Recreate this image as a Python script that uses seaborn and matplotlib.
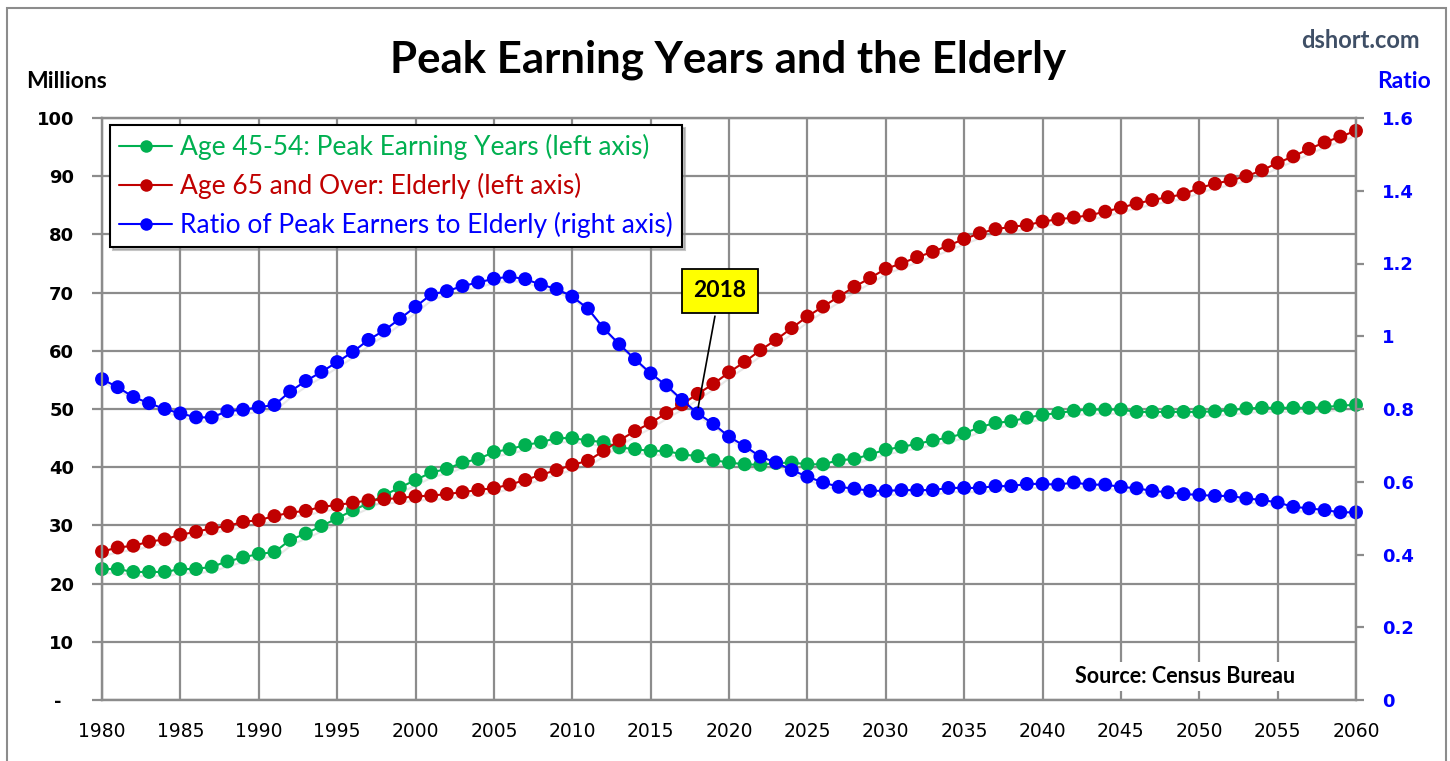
import matplotlib
matplotlib.use("Agg")
import matplotlib.pyplot as plt
import matplotlib.patheffects as pe
from matplotlib.patches import Rectangle
from matplotlib.lines import Line2D
import seaborn as sns
import pandas as pd

# Census Bureau numbers (millions / ratio)
years = list(range(1980, 2061))

peak_earners = [
    22.5, 22.5, 22.0, 22.0, 22.0, 22.5, 22.5, 22.9, 23.8, 24.5,
    25.1, 25.4, 27.5, 28.6, 29.9, 31.2, 32.6, 33.8, 35.2, 36.5,
    37.8, 39.1, 39.7, 40.8, 41.4, 42.6, 43.1, 43.8, 44.3, 45.0,
    45.0, 44.6, 44.3, 43.4, 43.1, 42.8, 42.8, 42.2, 41.9, 41.2,
    40.8, 40.5, 40.4, 40.7, 40.8, 40.5, 40.5, 41.2, 41.4, 42.2,
    43.0, 43.5, 44.0, 44.6, 45.1, 45.8, 46.9, 47.6, 47.9, 48.5,
    49.0, 49.3, 49.7, 49.9, 49.9, 49.9, 49.5, 49.5, 49.5, 49.5,
    49.5, 49.6, 49.8, 50.1, 50.2, 50.2, 50.2, 50.2, 50.3, 50.6,
    50.7,
]

elderly = [
    25.5, 26.2, 26.5, 27.2, 27.6, 28.4, 28.9, 29.5, 29.9, 30.6,
    30.9, 31.6, 32.2, 32.5, 33.2, 33.5, 33.9, 34.3, 34.5, 34.7,
    35.0, 35.1, 35.4, 35.7, 36.1, 36.4, 37.0, 37.8, 38.7, 39.5,
    40.4, 41.1, 42.8, 44.6, 46.2, 47.6, 49.3, 50.8, 52.6, 54.3,
    56.3, 58.1, 60.1, 61.9, 63.9, 65.9, 67.6, 69.3, 71.0, 72.5,
    74.1, 75.0, 76.1, 77.0, 78.1, 79.2, 80.2, 80.9, 81.3, 81.6,
    82.2, 82.6, 82.9, 83.3, 83.9, 84.6, 85.3, 85.9, 86.4, 86.9,
    88.0, 88.7, 89.3, 90.0, 91.0, 92.3, 93.4, 94.7, 95.8, 96.8,
    97.8,
]

ratio = [
    0.882, 0.860, 0.833, 0.816, 0.800, 0.788, 0.777, 0.777, 0.794, 0.798,
    0.805, 0.811, 0.848, 0.877, 0.902, 0.929, 0.957, 0.990, 1.016, 1.048,
    1.081, 1.115, 1.124, 1.138, 1.148, 1.158, 1.164, 1.157, 1.142, 1.130,
    1.109, 1.076, 1.022, 0.978, 0.937, 0.898, 0.865, 0.825, 0.788, 0.759,
    0.724, 0.698, 0.669, 0.653, 0.632, 0.614, 0.598, 0.586, 0.581, 0.575,
    0.575, 0.577, 0.577, 0.577, 0.583, 0.583, 0.583, 0.588, 0.588, 0.594,
    0.594, 0.592, 0.598, 0.592, 0.592, 0.586, 0.582, 0.575, 0.571, 0.566,
    0.564, 0.561, 0.561, 0.554, 0.550, 0.543, 0.531, 0.527, 0.522, 0.516,
    0.516,
]

left_ticks = [0, 10, 20, 30, 40, 50, 60, 70, 80, 90, 100]
left_labels = ["-  ", "10", "20", "30", "40", "50", "60", "70", "80", "90", "100"]
right_ticks = [0, 0.2, 0.4, 0.6, 0.8, 1.0, 1.2, 1.4, 1.6]
right_labels = ["0", "0.2", "0.4", "0.6", "0.8", "1", "1.2", "1.4", "1.6"]
x_ticks = list(range(1980, 2061, 5))

df = pd.DataFrame({"year": years, "peak": peak_earners,
                   "elderly": elderly, "ratio": ratio})

sns.set_style("white")
plt.rcParams["font.family"] = ["Lato", "DejaVu Sans"]
plt.rcParams["text.color"] = "black"
plt.rcParams["xtick.color"] = "black"
plt.rcParams["ytick.color"] = "black"

GREEN = "#00B050"
RED = "#C00000"
BLUE = "#0000FF"
GRID = "#8c8c8c"

fig = plt.figure(figsize=(14.5, 7.61), dpi=100)
ax = fig.add_axes([102 / 1450, 1 - 700 / 761, 1254 / 1450, 582 / 761])
ax2 = ax.twinx()

shadow = [pe.SimpleLineShadow(offset=(2, -3), shadow_color="gray", alpha=0.18), pe.Normal()]

line_kw = dict(marker="o", markersize=10, markeredgewidth=0, linewidth=1.5,
               clip_on=False, path_effects=shadow)
sns.lineplot(data=df, x="year", y="peak", ax=ax, color=GREEN, **line_kw)
sns.lineplot(data=df, x="year", y="elderly", ax=ax, color=RED, **line_kw)
sns.lineplot(data=df, x="year", y="ratio", ax=ax2, color=BLUE, **line_kw)

ax.set_xlim(1980, 2060)
ax.set_ylim(0, 100)
ax2.set_ylim(0, 1.6)
ax.set_xlabel("")
ax.set_ylabel("")
ax2.set_ylabel("")

ax.set_xticks(x_ticks)
ax.set_xticklabels([str(y) for y in x_ticks], family="DejaVu Sans", fontsize=13.5)
ax.set_yticks(left_ticks)
ax.set_yticklabels(left_labels, family="DejaVu Sans", fontsize=13, fontweight="bold")
ax2.set_yticks(right_ticks)
ax2.set_yticklabels(right_labels, family="DejaVu Sans", fontsize=13,
                    fontweight="bold", color=BLUE)

ax.grid(True, color=GRID, linewidth=1.6)
ax.set_axisbelow(True)
for a in (ax, ax2):
    for s in a.spines.values():
        s.set_color(GRID)
        s.set_linewidth(1.6)
ax.tick_params(axis="y", length=7, width=1.6, color=GRID, pad=13)
ax.tick_params(axis="x", length=5, width=1.6, color=GRID, pad=11)
ax2.tick_params(axis="y", length=6, width=1.6, color=GRID, pad=13)

# legend with coloured text
handles = [Line2D([], [], color=c, marker="o", markersize=9, markeredgewidth=0, linewidth=1.5)
           for c in (GREEN, RED, BLUE)]
labels = ["Age 45-54: Peak Earning Years (left axis)",
          "Age 65 and Over: Elderly (left axis)",
          "Ratio of Peak Earners to Elderly (right axis)"]
leg = ax2.legend(handles, labels, loc="upper left", bbox_to_anchor=(0.0064, 0.988),
                 borderaxespad=0, fontsize=19, frameon=True, fancybox=False,
                 handlelength=2.0, labelspacing=0.48, borderpad=0.35, handletextpad=0.3,
                 shadow={"color": "0.55", "alpha": 0.5})
leg.get_frame().set_edgecolor("black")
leg.get_frame().set_linewidth(1.5)
for t, c in zip(leg.get_texts(), (GREEN, RED, BLUE)):
    t.set_color(c)

# 2018 callout
ax2.annotate("2018", xy=(2018, 49.8), xycoords=ax.transData,
             xytext=(2019.4, 70.3), textcoords=ax.transData,
             ha="center", va="center", fontsize=16.5, fontweight="bold",
             bbox=dict(boxstyle="square,pad=0.5", fc="#FFFF00", ec="black", lw=1.3),
             arrowprops=dict(arrowstyle="-", color="black", lw=1.2),
             zorder=10)

ax2.text(0.864, 0.04, "Source: Census Bureau", transform=ax2.transAxes,
         ha="center", va="center", fontsize=15.5, fontweight="bold",
         bbox=dict(fc="white", ec="none", pad=3), zorder=9)

fig.text(0.502, 1 - 60 / 761, "Peak Earning Years and the Elderly", ha="center",
         va="center", fontsize=31.5, fontweight="bold", color="black")
fig.text(67 / 1450, 1 - 82 / 761, "Millions", ha="center", va="center",
         fontsize=16.5, fontweight="bold")
fig.text(1404 / 1450, 1 - 82 / 761, "Ratio", ha="center", va="center",
         fontsize=16.5, fontweight="bold", color=BLUE)
fig.text(1360 / 1450, 1 - 40 / 761, "dshort.com", ha="center", va="center",
         fontsize=17, fontweight="bold", color="#3F4F66")

fig.patches.append(Rectangle((7 / 1450, -0.02), 1439 / 1450, 1.02 - 8 / 761,
                             transform=fig.transFigure, fill=False,
                             edgecolor=GRID, linewidth=1.5))

fig.savefig("out.png", dpi=100)
